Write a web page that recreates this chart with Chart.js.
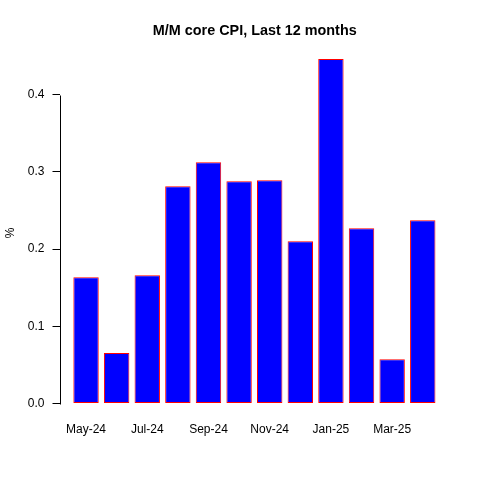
<!DOCTYPE html>
<html>
<head>
<meta charset="utf-8">
<script src="https://cdn.jsdelivr.net/npm/chart.js@4.4.1/dist/chart.umd.min.js"></script>
<style>
  html, body { margin: 0; padding: 0; background: #fff; }
  #wrap { width: 480px; height: 480px; }
</style>
</head>
<body>
<div id="wrap"><canvas id="cpiChart" width="480" height="480"></canvas></div>
<script>
// data
const months = ["May-24", "Jun-24", "Jul-24", "Aug-24", "Sep-24", "Oct-24",
                "Nov-24", "Dec-24", "Jan-25", "Feb-25", "Mar-25", "Apr-25"];
const coreCpi = [0.1635, 0.0654, 0.1661, 0.2813, 0.3124, 0.2878,
                 0.2890, 0.2101, 0.4459, 0.2269, 0.0573, 0.2373];
const yTicks = [0, 0.1, 0.2, 0.3, 0.4];
const xTickIdx = [1, 3, 5, 7, 9, 11]; // R drops every other label

Chart.defaults.font.family = "'Liberation Sans', Arial, sans-serif";
Chart.defaults.font.size = 12;
Chart.defaults.color = "#000";

// R style y axis: line only spans first to last tick
const axisLine = {
    id: "axisLine",
    afterDraw(chart) {
        const y = chart.scales.y;
        const ctx = chart.ctx;
        const x = Math.round(chart.chartArea.left) + 0.5;
        ctx.save();
        ctx.strokeStyle = "#000";
        ctx.lineWidth = 1;
        ctx.beginPath();
        ctx.moveTo(x, Math.round(y.getPixelForValue(yTicks[0])) + 0.5);
        ctx.lineTo(x, Math.round(y.getPixelForValue(yTicks[yTicks.length - 1])) + 0.5);
        ctx.stroke();
        ctx.restore();
    }
};

new Chart(document.getElementById("cpiChart"), {
    type: "bar",
    plugins: [axisLine],
    data: {
        datasets: [{
            data: coreCpi.map((v, i) => ({ x: i + 1, y: v })),
            backgroundColor: "#0000FF",
            borderColor: "#FF0000",
            borderWidth: 1,
            borderSkipped: false,
            barPercentage: 0.83,
            categoryPercentage: 1
        }]
    },
    options: {
        responsive: false,
        animation: false,
        layout: { padding: { left: 0, right: 30, top: 0, bottom: 0 } },
        plugins: {
            legend: { display: false },
            tooltip: { enabled: false },
            title: {
                display: true,
                text: "M/M core CPI, Last 12 months",
                fullSize: false,
                font: { size: 14.4, weight: "bold" },
                padding: { top: 22, bottom: 19.7 }
            }
        },
        scales: {
            x: {
                type: "linear",
                offset: false,
                min: 0.133,
                max: 12.89,
                grid: { display: false, drawTicks: false },
                border: { display: false },
                afterBuildTicks: (scale) => {
                    scale.ticks = xTickIdx.map(v => ({ value: v }));
                },
                afterFit: (scale) => { scale.height = 73; },
                ticks: {
                    autoSkip: false,
                    maxRotation: 0,
                    padding: 15,
                    callback: (v) => months[v - 1]
                }
            },
            y: {
                min: -0.0045,
                max: 0.446,
                grid: {
                    drawOnChartArea: false,
                    drawTicks: true,
                    tickLength: 7,
                    color: "#000",
                    lineWidth: 1
                },
                border: { display: false },
                afterBuildTicks: (scale) => {
                    scale.ticks = yTicks.map(v => ({ value: v }));
                },
                afterFit: (scale) => { scale.width = 59.5; },
                ticks: {
                    padding: 8,
                    callback: (v) => v.toFixed(1)
                },
                title: {
                    display: true,
                    text: "%",
                    font: { size: 12 },
                    padding: { top: 3, bottom: 0 }
                }
            }
        }
    }
});
</script>
</body>
</html>
